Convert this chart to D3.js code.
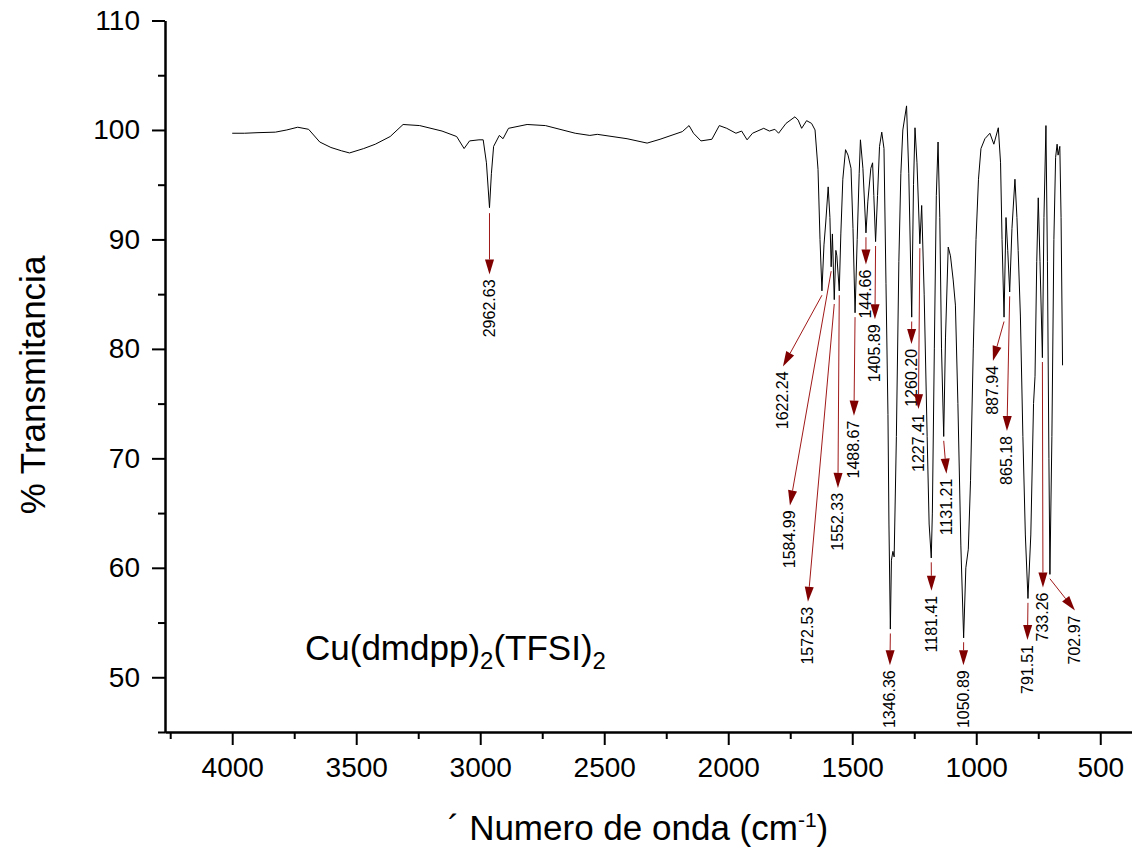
<!DOCTYPE html>
<html>
<head>
<meta charset="utf-8">
<script src="https://cdn.jsdelivr.net/npm/d3@7"></script>
<style>
    body { margin: 0; background: #ffffff; }
    svg text { font-family: Arial, "Liberation Sans", sans-serif; fill: #000; }
</style>
</head>
<body>
<div id="chart"></div>
<script>
// spectrum (cm-1, % T)
const wavenumber = [
    4000, 3950, 3900, 3826, 3780, 3736, 3692, 3647, 3602, 3560, 3527, 3470, 3423, 3363, 3311, 3244,
    3154, 3095, 3065, 3043, 3005, 2988, 2975, 2962.63, 2955, 2946, 2923, 2908, 2886, 2811, 2737, 2617,
    2558, 2528, 2408, 2327, 2275, 2185, 2158, 2140, 2110, 2066, 2036, 2006, 1969, 1946, 1924, 1902,
    1857, 1834, 1812, 1797, 1767, 1731, 1718, 1704, 1684, 1664, 1650, 1638, 1630, 1622.24, 1614, 1607,
    1597, 1590, 1584.99, 1580, 1572.53, 1566, 1562, 1552.33, 1546, 1538, 1527, 1517, 1505, 1497, 1488.67, 1480,
    1472, 1467, 1457, 1444.66, 1437, 1425, 1418, 1413, 1405.89, 1398, 1390, 1381, 1372, 1364, 1356, 1352,
    1346.36, 1342, 1336, 1331, 1322, 1312, 1304, 1296, 1281, 1272, 1260.2, 1253, 1247, 1239, 1227.41, 1220,
    1210, 1198, 1190, 1181.41, 1177, 1169, 1161, 1154, 1147, 1140, 1131.21, 1124, 1113, 1104, 1093, 1084,
    1074, 1062, 1050.89, 1042, 1032, 1023, 1012, 1001, 991, 981, 965, 945, 929, 911, 902, 896,
    887.94, 880, 873, 865.18, 856, 844, 836, 831, 822, 812, 802, 791.51, 780, 769, 763, 756,
    750, 743, 733.26, 727, 719, 713, 707, 702.97, 695, 687, 680, 674, 670, 663, 658, 652
];
const transmittance = [
    99.7, 99.7, 99.75, 99.8, 100.0, 100.25, 100.06, 98.9, 98.4, 98.1, 97.9, 98.3, 98.7, 99.4, 100.5, 100.4,
    99.9, 99.4, 98.3, 99.0, 99.1, 99.1, 97.0, 92.9, 96.0, 98.5, 99.5, 99.2, 100.15, 100.5, 100.4, 99.7,
    99.5, 99.6, 99.2, 98.8, 99.15, 99.85, 100.4, 99.7, 99.0, 99.15, 100.4, 100.15, 99.7, 99.9, 99.1, 99.7,
    100.15, 99.9, 100.06, 99.7, 100.6, 101.2, 100.9, 100.15, 100.85, 100.6, 100.0, 96.4, 90.0, 85.3, 89.5, 91.5,
    94.8, 92.0, 87.5, 90.5, 84.5, 89.0, 88.5, 85.3, 90.5, 95.5, 98.2, 97.7, 96.5, 91.0, 83.3, 90.0,
    96.0, 99.1, 96.5, 90.6, 93.5, 96.5, 97.0, 94.0, 89.8, 94.0, 98.5, 99.8, 98.3, 86.0, 74.0, 64.0,
    54.4, 60.7, 61.5, 61.0, 72.0, 88.0, 96.0, 100.0, 102.2, 96.0, 82.9, 95.0, 100.2, 97.0, 89.6, 93.1,
    85.0, 72.0, 64.0, 60.9, 65.0, 80.0, 94.0, 98.9, 92.0, 80.0, 72.0, 81.0, 89.3, 88.5, 86.3, 84.0,
    75.0, 62.0, 53.6, 60.0, 61.7, 68.0, 80.0, 90.0, 95.5, 98.3, 99.2, 99.7, 98.7, 100.2, 97.0, 90.0,
    82.9, 92.0, 89.0, 85.2, 91.0, 95.5, 92.0, 89.0, 83.0, 72.0, 63.0, 57.2, 63.0, 75.0, 77.5, 88.0,
    93.8, 88.0, 79.2, 92.0, 100.4, 88.0, 70.0, 59.4, 72.0, 90.0, 97.5, 98.7, 97.7, 98.5, 92.0, 78.5
];

// peak labels and their arrows (arrow from / to, in data units)
const peakLabels = ["2962.63", "1622.24", "1584.99", "1572.53", "1552.33", "1488.67", "144.66", "1405.89", "1346.36",
    "1260.20", "1227.41", "1181.41", "1131.21", "1050.89", "887.94", "865.18", "791.51", "733.26", "702.97"];
const peakWn = [2962.63, 1622.24, 1584.99, 1572.53, 1552.33, 1488.67, 1444.66, 1405.89, 1346.36,
    1260.20, 1227.41, 1181.41, 1131.21, 1050.89, 887.94, 865.18, 791.51, 733.26, 702.97];
const arrowFromT = [92.4, 84.9, 87.1, 84.1, 84.9, 82.9, 90.2, 89.4, 54.0,
    82.5, 89.2, 60.5, 71.6, 53.2, 82.5, 84.8, 56.8, 78.8, 59.0];
const arrowToWn = [2962.6, 1779.4, 1751.2, 1678.6, 1557.7, 1493.1, 1444.8, 1408.5, 1348,
    1261.3, 1233.1, 1180.6, 1120.2, 1051.6, 932.7, 876.2, 793.5, 731, 602];
const arrowToT = [86.8, 78.4, 65.7, 56.9, 67.3, 73.9, 87.7, 82.7, 51.1,
    80.45, 74.5, 57.9, 68.6, 51.1, 78.9, 72.5, 53.4, 58.2, 56.1];

const xMajor = [4000, 3500, 3000, 2500, 2000, 1500, 1000, 500];
const xMinor = [4250, 3750, 3250, 2750, 2250, 1750, 1250, 750];
const yMajor = [50, 60, 70, 80, 90, 100, 110];
const yMinor = [45, 55, 65, 75, 85, 95, 105];

const dimension = {
    width: 1132,
    height: 856,
    left: 165,
    right: 1132,
    top: 20.5,
    bottom: 732
};

const svg = d3.select("#chart").append("svg")
    .attr("width", dimension.width)
    .attr("height", dimension.height);

const xScaler = d3.scaleLinear()
    .domain([4271, 372])
    .range([dimension.left, dimension.right]);

const yScaler = d3.scaleLinear()
    .domain([45, 110])
    .range([dimension.bottom, dimension.top]);

// axes: minor first (no labels), then major with labels
function styleAxis(g) {
    g.selectAll("path, line").attr("stroke", "#000").attr("stroke-width", 2);
    g.selectAll("text").attr("font-size", 28).attr("fill", "#000");
}

svg.append("g")
    .attr("transform", `translate(0,${dimension.bottom})`)
    .call(d3.axisBottom(xScaler).tickValues(xMinor).tickSize(7).tickSizeOuter(0).tickFormat(""))
    .call(styleAxis);
svg.append("g")
    .attr("transform", `translate(0,${dimension.bottom})`)
    .call(d3.axisBottom(xScaler).tickValues(xMajor).tickSize(13).tickSizeOuter(0).tickPadding(12).tickFormat(d3.format("d")))
    .call(styleAxis);

svg.append("g")
    .attr("transform", `translate(${dimension.left},0)`)
    .call(d3.axisLeft(yScaler).tickValues(yMinor).tickSize(7).tickSizeOuter(0).tickFormat(""))
    .call(styleAxis);
svg.append("g")
    .attr("transform", `translate(${dimension.left},0)`)
    .call(d3.axisLeft(yScaler).tickValues(yMajor).tickSize(13).tickSizeOuter(0).tickPadding(12).tickFormat(d3.format("d")))
    .call(styleAxis);

// spectrum
const spectrum = wavenumber.map((w, i) => ({ w: w, t: transmittance[i] }));
const lineGenerator = d3.line()
    .x(d => xScaler(d.w))
    .y(d => yScaler(d.t));

svg.append("path")
    .attr("d", lineGenerator(spectrum))
    .attr("fill", "none")
    .attr("stroke", "#000")
    .attr("stroke-width", 1)
    .attr("stroke-linejoin", "round");

// peak arrows + labels
const headLen = 15, headHalf = 4.5;
const peaks = svg.append("g");
peakLabels.forEach((label, i) => {
    const x1 = xScaler(peakWn[i]), y1 = yScaler(arrowFromT[i]);
    const x2 = xScaler(arrowToWn[i]), y2 = yScaler(arrowToT[i]);
    const len = Math.hypot(x2 - x1, y2 - y1);
    const ux = (x2 - x1) / len, uy = (y2 - y1) / len;
    const bx = x2 - ux * headLen, by = y2 - uy * headLen;

    peaks.append("line")
        .attr("x1", x1).attr("y1", y1)
        .attr("x2", bx).attr("y2", by)
        .attr("stroke", "#a01818")
        .attr("stroke-width", 1);

    peaks.append("path")
        .attr("d", `M${x2},${y2}L${bx - uy * headHalf},${by + ux * headHalf}L${bx + uy * headHalf},${by - ux * headHalf}Z`)
        .attr("fill", "#800000");

    peaks.append("text")
        .attr("transform", `translate(${x2 + 5.5},${y2 + 5}) rotate(-90)`)
        .attr("text-anchor", "end")
        .attr("font-size", 16)
        .text(label);
});

// compound name
const compound = svg.append("text")
    .attr("x", 305)
    .attr("y", 660)
    .attr("font-size", 35);
compound.append("tspan").text("Cu(dmdpp)");
compound.append("tspan").attr("font-size", 24).attr("dy", 9).text("2");
compound.append("tspan").attr("dy", -9).text("(TFSI)");
compound.append("tspan").attr("font-size", 24).attr("dy", 9).text("2");

// axis titles
svg.append("text")
    .attr("transform", "translate(45,385) rotate(-90)")
    .attr("text-anchor", "middle")
    .attr("font-size", 35)
    .text("% Transmitancia");

const xTitle = svg.append("text")
    .attr("x", 638)
    .attr("y", 840)
    .attr("text-anchor", "middle")
    .attr("font-size", 35);
xTitle.append("tspan").text("´ Numero de onda (cm");
xTitle.append("tspan").attr("font-size", 21).attr("dy", -13).text("-1");
xTitle.append("tspan").attr("dy", 13).text(")");
</script>
</body>
</html>
